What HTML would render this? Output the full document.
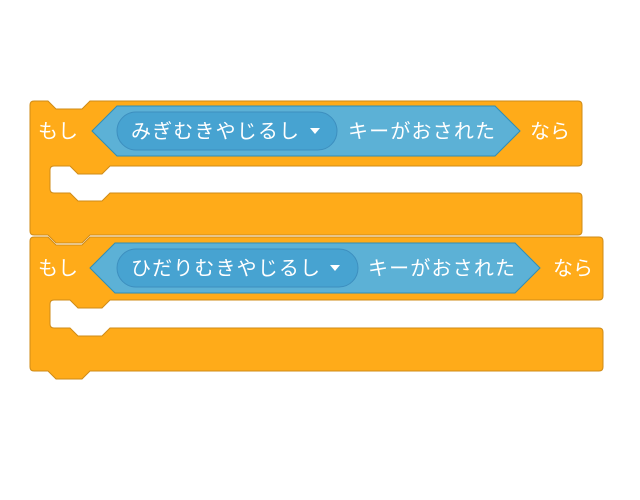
<!DOCTYPE html>
<html><head><meta charset="utf-8"><style>
html,body{margin:0;padding:0;background:#fff;}
svg{display:block}
text{font-family:"Liberation Sans","Noto Sans CJK JP",sans-serif;font-size:20px;fill:#fff;}
</style></head><body>
<svg width="640" height="500" viewBox="0 0 640 500" xmlns="http://www.w3.org/2000/svg">
<path d="M34,237 H48 l8,8 h26 l8,-8 H599 q4,0 4,4 V296 q0,4 -4,4 H110 l-8,8 h-24 l-8,-8 H54 q-4,0 -4,4 V324 q0,4 4,4 H70 l8,8 h24 l8,-8 H599 q4,0 4,4 V367 q0,4 -4,4 H90 l-8,8 h-26 l-8,-8 H34 q-4,0 -4,-4 V241 q0,-4 4,-4 Z" fill="#ffab19" stroke="#cf8b17" stroke-width="1"/>
<path d="M34,101 H48 l8,8 h26 l8,-8 H578 q4,0 4,4 V162 q0,4 -4,4 H110 l-8,8 h-24 l-8,-8 H54 q-4,0 -4,4 V189 q0,4 4,4 H70 l8,8 h24 l8,-8 H578 q4,0 4,4 V231 q0,4 -4,4 H90 l-8,8 h-26 l-8,-8 H34 q-4,0 -4,-4 V105 q0,-4 4,-4 Z" fill="#ffab19" stroke="#cf8b17" stroke-width="1"/>
<polygon points="92,131 117,106 495,106 520,131 495,156 117,156" fill="#5cb1d6" stroke="#2e8eb8"/>
<rect x="117" y="112" width="220" height="38" rx="19" fill="#47a3d1" stroke="#3d8fbf"/>
<text x="38" y="138">もし</text>
<text x="131" y="138" textLength="168">みぎむきやじるし</text>
<path d="M310,128 h10 l-5,6 z" fill="#fff"/>
<text x="348" y="138" textLength="147">キーがおされた</text>
<text x="530" y="138">なら</text>
<polygon points="90,268 115,243 515,243 540,268 515,293 115,293" fill="#5cb1d6" stroke="#2e8eb8"/>
<rect x="117" y="249" width="241" height="38" rx="19" fill="#47a3d1" stroke="#3d8fbf"/>
<text x="38" y="275">もし</text>
<text x="131" y="275" textLength="189">ひだりむきやじるし</text>
<path d="M330,265 h10 l-5,6 z" fill="#fff"/>
<text x="368" y="275" textLength="147">キーがおされた</text>
<text x="553" y="275">なら</text>
</svg>
</body></html>
